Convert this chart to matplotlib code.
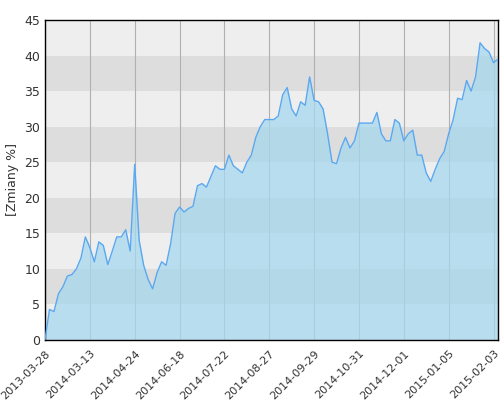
import matplotlib
matplotlib.use("Agg")
import matplotlib.pyplot as plt
import numpy as np

tick_labels = ["2013-03-28", "2014-03-13", "2014-04-24", "2014-06-18", "2014-07-22",
               "2014-08-27", "2014-09-29", "2014-10-31", "2014-12-01", "2015-01-05",
               "2015-02-03"]
values = [
    0, 4.3, 4.0, 6.5, 7.5, 9, 9.2, 10, 11.5, 14.5,
    13, 11, 13.8, 13.3, 10.6, 12.5, 14.5, 14.5, 15.5, 12.5,
    24.7, 14, 10.5, 8.5, 7.2, 9.5, 11, 10.5, 13.5, 17.8,
    18.7, 18, 18.5, 18.8, 21.7, 22, 21.5, 23, 24.5, 24,
    24, 26, 24.5, 24, 23.5, 25, 26, 28.5, 30, 31,
    31, 31, 31.5, 34.5, 35.5, 32.5, 31.5, 33.5, 33, 37,
    33.7, 33.5, 32.5, 29, 25, 24.8, 27, 28.5, 27, 28,
    30.5, 30.5, 30.5, 30.5, 32, 29, 28, 28, 31, 30.5,
    28, 29, 29.5, 26, 26, 23.5, 22.3, 24, 25.5, 26.5,
    29, 31, 34, 33.8, 36.5, 35, 37, 41.8, 41, 40.5,
    39, 39.5,
]

x = np.arange(len(values))
fig = plt.figure(figsize=(5, 4), dpi=100)
ax = fig.add_axes([0.09, 0.15, 0.906, 0.80])

for lo in range(0, 45, 5):
    ax.axhspan(lo, lo + 5, color="#dddddd" if (lo // 5) % 2 else "#eeeeee", zorder=0, lw=0)
for t in range(0, len(values), 10):
    ax.axvline(t, color="#b0b0b0", lw=0.8, zorder=1)

ax.fill_between(x, values, color="#a6d8ee", alpha=0.75, zorder=2, lw=0)
ax.plot(x, values, color="#5aa8f0", lw=1, zorder=3)

ax.set_xlim(0, len(values) - 1)
ax.set_ylim(0, 45)
ax.set_yticks(range(0, 46, 5))
ax.set_xticks(range(0, len(values), 10))
ax.set_xticklabels(tick_labels, rotation=45, ha="right", rotation_mode="anchor", fontsize=8, color="#333333")
ax.tick_params(axis="y", labelsize=9, labelcolor="#333333", length=0)
ax.tick_params(axis="x", length=0, pad=6)
ax.set_ylabel("[Zmiany %]", fontsize=9, color="#333333")
for s in ax.spines.values():
    s.set_linewidth(1)
fig.savefig("out.png", dpi=100)
